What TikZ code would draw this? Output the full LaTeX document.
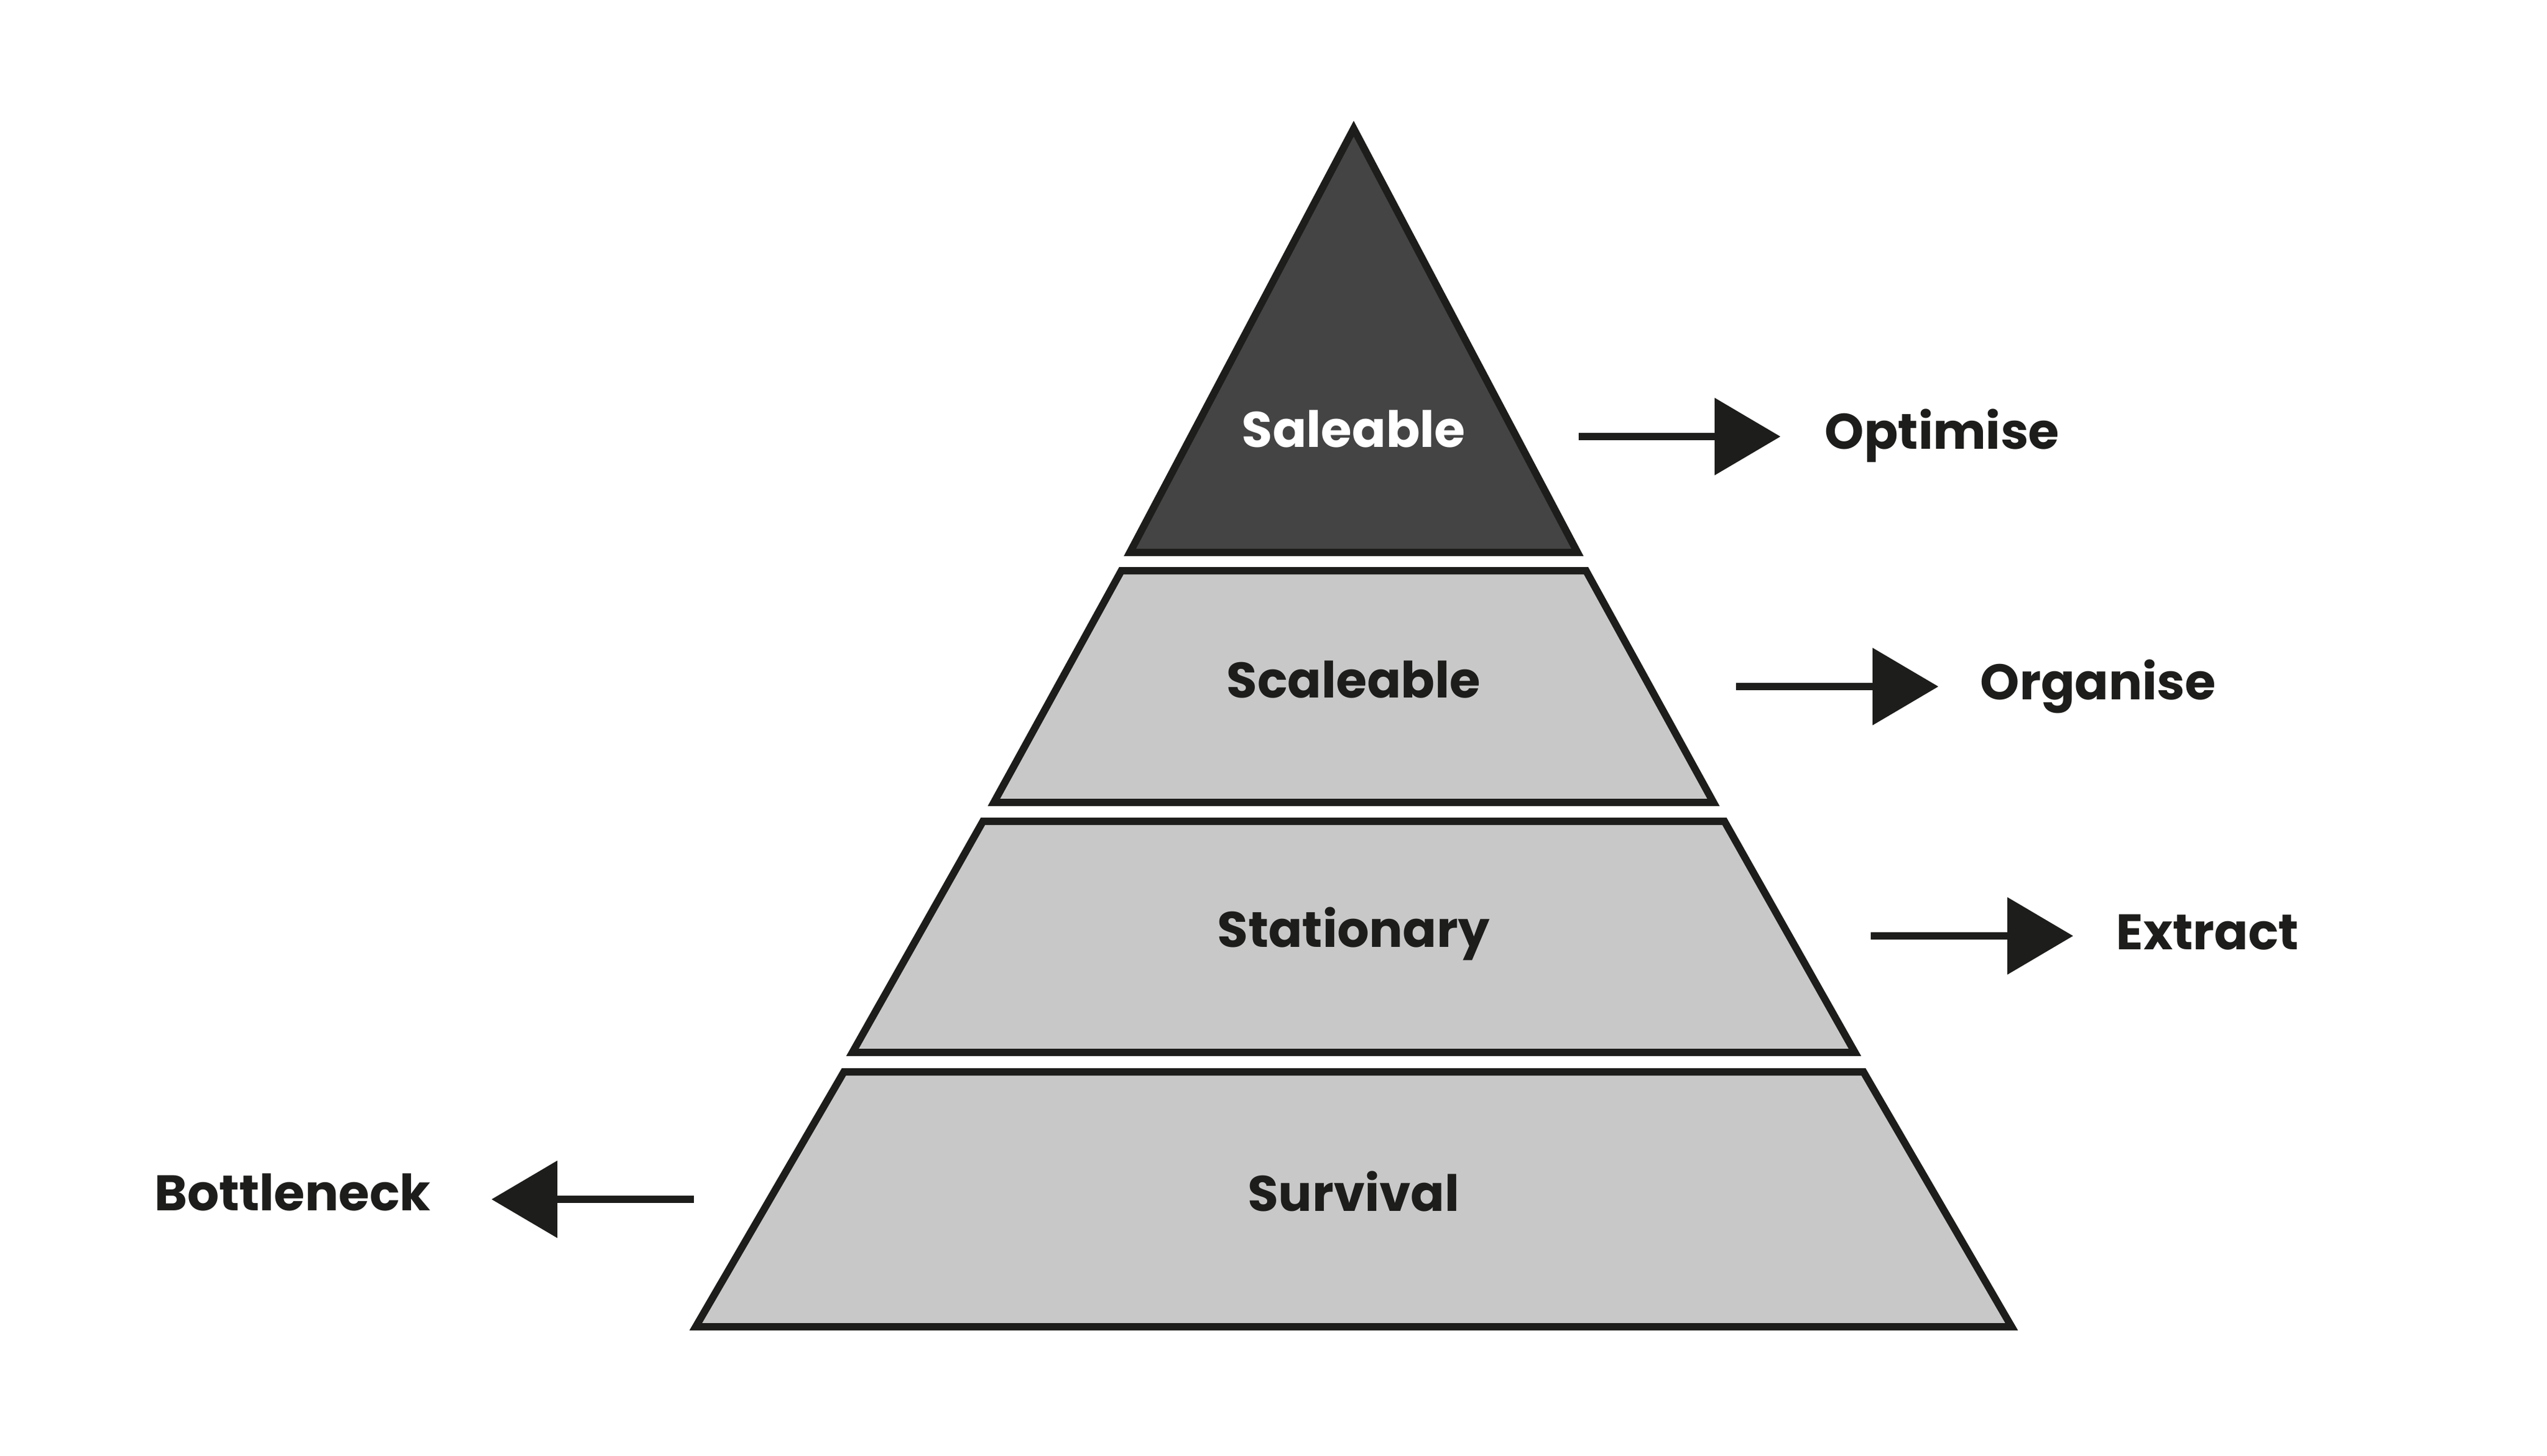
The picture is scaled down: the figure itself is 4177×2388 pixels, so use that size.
\documentclass[tikz,border=0pt]{standalone}
\usepackage{fontspec}
\setmainfont{Poppins}
\usetikzlibrary{arrows.meta}
\definecolor{inkgray}{HTML}{1D1D1B}
\definecolor{topgray}{HTML}{444444}
\definecolor{layergray}{HTML}{C8C8C8}
\tikzset{
  layer/.style={draw=inkgray, line width=0.12cm, line join=miter, fill=layergray},
  toplayer/.style={layer, fill=topgray},
  lbl/.style={inner sep=0pt, text=inkgray, font=\bfseries\fontsize{23.3}{28}\selectfont},
  toplbl/.style={lbl, text=white},
  arr/.style={draw=inkgray, line width=0.12cm, -{Triangle[length=1.08cm,width=1.24cm]}}
}
% one slice of the pyramid: style, top y, top half width, bottom y, bottom half width
\def\drawSlice#1#2#3#4#5{
\draw[#1] (2220-#3,#2) -- (2220+#3,#2) -- (2220+#5,#4) -- (2220-#5,#4) -- cycle;
}

\begin{document}
\begin{tikzpicture}[x=0.01cm, y=-0.01cm]
  \useasboundingbox (0,0) rectangle (4177,2388);
  % pyramid
  \draw[toplayer] (2220,211) -- (2587,906) -- (1853,906) -- cycle;
  \drawSlice{layer}{936}{381}{1316}{590}
  \drawSlice{layer}{1347}{608}{1726}{822}
  \drawSlice{layer}{1758}{836}{2176}{1079}
  \node[toplbl, anchor=base] (saleable) at (2220,733) {Saleable};
  \node[lbl, anchor=base] (scaleable) at (2220,1144) {Scaleable};
  \node[lbl, anchor=base] (stationary) at (2220,1553) {Stationary};
  \node[lbl, anchor=base] (survival) at (2220,1986) {Survival};
  % side labels
  \node[lbl, anchor=base west] (optimise) at (2992,736) {Optimise};
  \node[lbl, anchor=base west] (organise) at (3247,1147) {Organise};
  \node[lbl, anchor=base west] (extract) at (3470,1557) {Extract};
  \node[lbl, anchor=base east] (bottleneck) at (707,1985) {Bottleneck};
  \coordinate (optimiseTail) at (2589,716);
  \coordinate (organiseTail) at (2847,1126);
  \coordinate (extractTail) at (3068,1535);
  \coordinate (bottleneckTail) at (1138,1967);
  \draw[arr, shorten >=0.72cm] (optimiseTail) -- (optimise.west |- optimiseTail);
  \draw[arr, shorten >=0.68cm] (organiseTail) -- (organise.west |- organiseTail);
  \draw[arr, shorten >=0.70cm] (extractTail) -- (extract.west |- extractTail);
  \draw[arr, shorten >=0.99cm] (bottleneckTail) -- (bottleneck.east |- bottleneckTail);
\end{tikzpicture}
\end{document}
